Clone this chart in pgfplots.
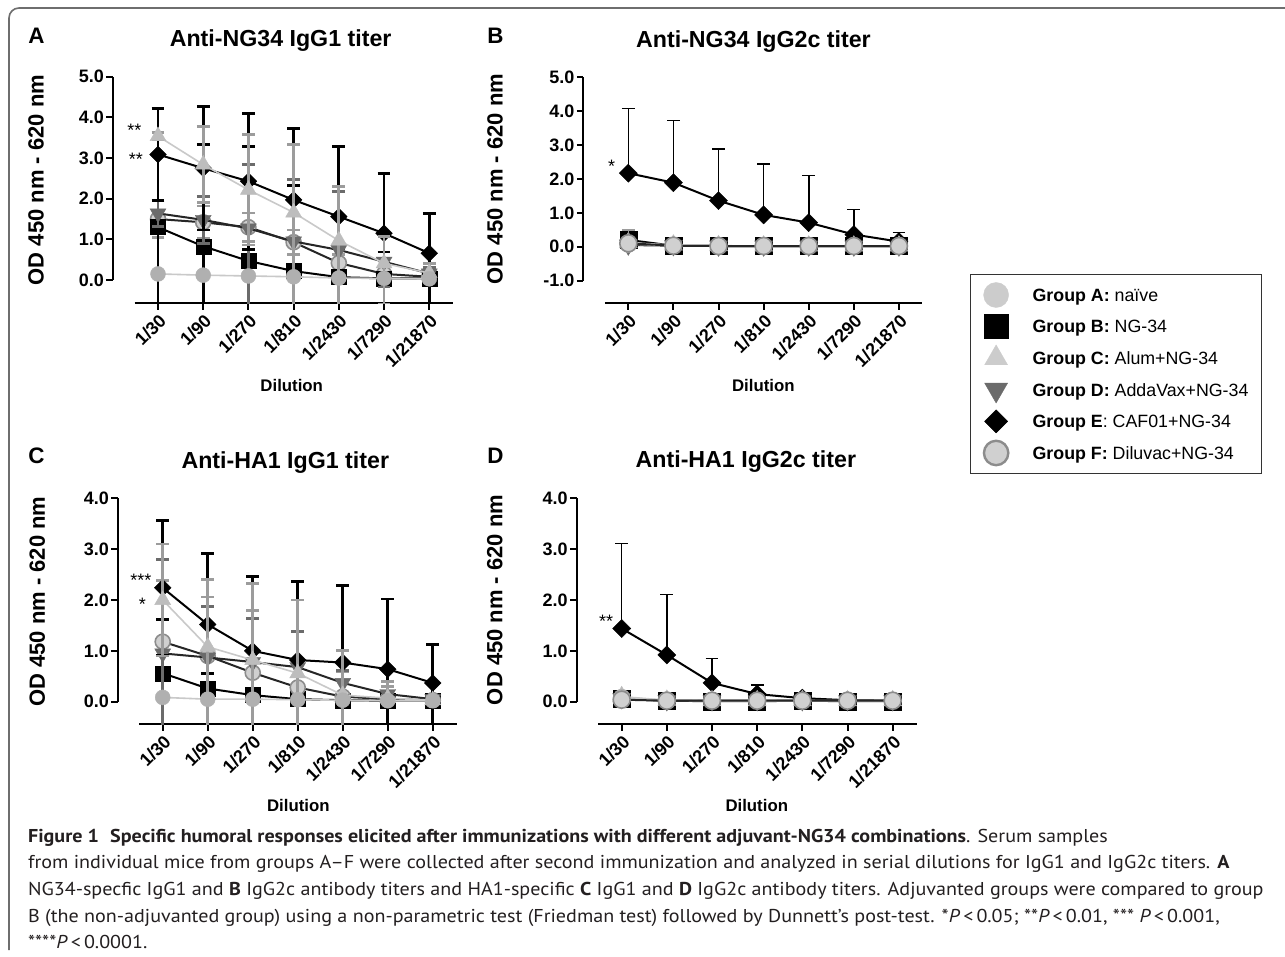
\documentclass[border=0pt]{standalone}
\usepackage{fontspec}
\setmainfont{Liberation Sans}
\newfontfamily\capfont[FakeStretch=1.08]{PT Sans}
\usepackage{pgfplots}
\pgfplotsset{compat=1.18}

\definecolor{grA}{HTML}{B0B0B0}
\definecolor{grAleg}{HTML}{CCCCCC}
\definecolor{grC}{HTML}{BDBDBD}
\definecolor{grCbar}{HTML}{9C9C9C}
\definecolor{grD}{HTML}{6B6B6B}
\definecolor{grFfill}{HTML}{D0D0D0}
\definecolor{grFdraw}{HTML}{8C8C8C}
\definecolor{lightline}{HTML}{C9C9C9}
\definecolor{framegray}{HTML}{6E6E6E}
\definecolor{captext}{HTML}{231F20}

% marker sizes, changed per panel
\def\msq{3.75pt}\def\mtri{4.6pt}\def\mdia{2.95pt}\def\ebw{1.4pt}

\pgfplotsset{
  every axis title shift=0pt,
  gp/.style={
    scale only axis,
    xmin=0, xmax=7.53,
    axis x line=bottom, axis y line=left,
    axis line style={draw=none,-},
    tick align=outside, major tick length=3.2pt,
    tick style={black, line width=1pt},
    xtick={1,...,7},
    xticklabels={1/30,1/90,1/270,1/810,1/2430,1/7290,1/21870},
    tick label style={font=\fontsize{9}{10}\selectfont\bfseries},
    xticklabel style={rotate=45, anchor=north east, inner sep=1pt},
    yticklabel style={inner sep=1pt},
    xlabel={Dilution}, ylabel={OD 450 nm - 620 nm},
    xlabel style={font=\fontsize{8.4}{10}\selectfont\bfseries, anchor=base},
    ylabel style={font=\fontsize{11}{13}\selectfont\bfseries, anchor=center},
    title style={font=\fontsize{11.6}{14}\selectfont\bfseries, anchor=base},
    clip mode=individual,
  },
  ebar/.style={error bars/error bar style={#1, line width=\ebw},
    error bars/error mark options={#1, rotate=90, mark size=3.2pt, line width=\ebw}},
  gA/.style={lightline, line width=0.8pt, mark=*, mark size=\msq,
    mark options={solid, fill=grA, draw=grA, line width=0.2pt}, ebar=grA},
  gB/.style={black, line width=1pt, mark=square*, mark size=\msq,
    mark options={solid, fill=black, draw=black, line width=0.2pt}, ebar=black},
  gC/.style={lightline, line width=0.8pt, mark=triangle*, mark size=\mtri,
    mark options={solid, fill=grC, draw=grC, line width=0.2pt}, ebar=grCbar},
  gD/.style={black!85, line width=1pt, mark=triangle*, mark size=\mtri,
    mark options={solid, rotate=180, fill=grD, draw=grD, line width=0.2pt}, ebar=grD},
  gE/.style={black, line width=1pt, mark=square*, mark size=\mdia,
    mark options={solid, rotate=45, fill=black, draw=black, line width=0.2pt}, ebar=black},
  gF/.style={black!85, line width=1pt, mark=*, mark size=\msq,
    mark options={solid, fill=grFfill, draw=grFdraw, line width=0.8pt}, ebar=grCbar},
  both/.style={error bars/y dir=both, error bars/y explicit},
  plus/.style={error bars/y dir=plus, error bars/y explicit},
}

\begin{document}
\begin{tikzpicture}
\useasboundingbox (0,0) rectangle (642.5pt,-478.5pt);
\fill[white] (0,0) rectangle (642.5pt,-478.5pt);
\draw[framegray, line width=0.8pt, rounded corners=5pt]
  (4.5pt,-475pt) -- (4.5pt,-4pt) -- (642.5pt,-4pt);

% ---------- A: Anti-NG34 IgG1 ----------
% lower bars that run past the x axis are cut there, as in the original
\begin{axis}[gp, at={(56.4pt,-151.6pt)}, anchor=south west,
  width=170.2pt, height=113.2pt, ymin=-0.57, ymax=5,
  ytick={0,...,5}, yticklabels={0.0,1.0,2.0,3.0,4.0,5.0},
  title={Anti-NG34 IgG1 titer},
  title style={at={(axis description cs:0.493,1.1327)}},
  ylabel style={at={(axis description cs:-0.2256,0.544)}},
  xlabel style={at={(axis description cs:0.5256,-0.392)}}]
\draw[line width=1pt] (axis cs:0,0) -- (axis cs:0,5);
\draw[line width=1pt] (axis cs:0.48,-0.57) -- (axis cs:7.53,-0.57);
\addplot[gF, both] coordinates {(1,1.50)+-(0,0.45) (2,1.42)+-(0,0.40) (3,1.30)+-(0,0.35) (4,0.93)+-(0,0.30) (5,0.42)+-(0,0.20) (6,0.15)+-(0,0.10) (7,0.08)+-(0,0.05)};
\addplot[gB, both] coordinates {(1,1.30)+=(0,1.78)-=(0,2.00) (2,0.83)+-(0,2.50) (3,0.47)+-(0,2.82) (4,0.22)+-(0,2.10) (5,0.07)+=(0,0.70)-=(0,0.80) (6,0.04)+=(0,0.65)-=(0,0.80) (7,0.04)+=(0,0.65)-=(0,0.80)};
\addplot[gD, both] coordinates {(1,1.64)+-(0,0.33) (2,1.48)+-(0,0.58) (3,1.27)+=(0,1.57)-=(0,1.90) (4,0.95)+=(0,1.53)-=(0,1.70) (5,0.74)+-(0,1.44) (6,0.45)+-(0,0.62) (7,0.16)+-(0,0.14)};
\addplot[gE, both] coordinates {(1,3.09)+-(0,1.13) (2,2.75)+-(0,1.52) (3,2.43)+-(0,1.67) (4,1.97)+-(0,1.75) (5,1.56)+=(0,1.72)-=(0,2.30) (6,1.15)+=(0,1.47)-=(0,1.80) (7,0.66)+=(0,0.97)-=(0,1.30)};
\addplot[gC, both] coordinates {(1,3.54)+-(0,0.08) (2,2.84)+-(0,0.93) (3,2.22)+-(0,1.36) (4,1.66)+=(0,1.67)-=(0,2.30) (5,0.97)+=(0,1.33)-=(0,1.60) (6,0.41)+=(0,0.66)-=(0,1.00) (7,0.17)+=(0,0.24)-=(0,0.15)};
\addplot[gA, both] coordinates {(1,0.15)+-(0,0.05) (2,0.12)+-(0,0.04) (3,0.10)+-(0,0.03) (4,0.08)+-(0,0.03) (5,0.05)+-(0,0.02) (6,0.04)+-(0,0.02) (7,0.03)+-(0,0.02)};
\end{axis}

% ---------- B: Anti-NG34 IgG2c ----------
\def\msq{4.25pt}\def\mtri{5.2pt}\def\mdia{3.2pt}\def\ebw{0.8pt}
\begin{axis}[gp, at={(291.6pt,-151.65pt)}, anchor=south west,
  width=169.6pt, height=113pt, xmax=7.52, ymin=-1.67, ymax=5,
  ytick={-1,...,5}, yticklabels={-1.0,0.0,1.0,2.0,3.0,4.0,5.0},
  title={Anti-NG34 IgG2c titer},
  title style={at={(axis description cs:0.502,1.133)}},
  ylabel style={at={(axis description cs:-0.26,0.55)}},
  xlabel style={at={(axis description cs:0.531,-0.391)}},
  legend image code/.code={\draw[#1] plot coordinates {(0pt,0pt)};},
  legend cell align=left,
  legend style={at={(axis description cs:1.141,0.1297)}, anchor=north west,
    draw=black!80, line width=0.6pt, inner xsep=6.4pt, inner ysep=2.3pt,
    row sep=0pt, column sep=12pt,
    font=\fontsize{8.9}{10}\selectfont,
    nodes={inner xsep=0pt, inner ysep=0pt, minimum height=15.8pt,
      text height=6.4pt, text depth=0pt}}]
\addlegendimage{mark=*, mark size=6.25pt, mark options={solid, fill=grAleg, draw=grAleg, line width=0.2pt}}
\addlegendentry{\textbf{Group A:} naïve}
\addlegendimage{mark=square*, mark size=6pt, mark options={solid, fill=black, draw=black, line width=0.2pt}}
\addlegendentry{\textbf{Group B:} NG-34}
\addlegendimage{mark=triangle*, mark size=6.6pt, mark options={solid, fill=grAleg, draw=grAleg, line width=0.2pt}}
\addlegendentry{\textbf{Group C:} Alum+NG-34}
\addlegendimage{mark=triangle*, mark size=6.6pt, mark options={solid, rotate=180, fill=grD, draw=grD, line width=0.2pt}}
\addlegendentry{\textbf{Group D:} AddaVax+NG-34}
\addlegendimage{mark=square*, mark size=4.07pt, mark options={solid, rotate=45, fill=black, draw=black, line width=0.2pt}}
\addlegendentry{\textbf{Group E}: CAF01+NG-34}
\addlegendimage{mark=*, mark size=6.1pt, mark options={solid, fill=grFfill, draw=grFdraw, line width=1.2pt}}
\addlegendentry{\textbf{Group F:} Diluvac+NG-34}
\draw[line width=1pt] (axis cs:0,-1) -- (axis cs:0,5);
\draw[line width=1pt] (axis cs:0.48,-1.67) -- (axis cs:7.52,-1.67);
\addplot[gB, plus] coordinates {(1,0.20)+-(0,0.12) (2,0.03)+-(0,0.03) (3,0.02)+-(0,0.02) (4,0.02)+-(0,0.02) (5,0.02)+-(0,0.02) (6,0.02)+-(0,0.02) (7,0.02)+-(0,0.02)};
\addplot[gD, plus] coordinates {(1,0.05)+-(0,0.05) (2,0.03)+-(0,0.02) (3,0.02)+-(0,0.02) (4,0.02)+-(0,0.01) (5,0.02)+-(0,0.01) (6,0.02)+-(0,0.01) (7,0.02)+-(0,0.01)};
\addplot[gE, plus] coordinates {(1,2.17)+-(0,1.91) (2,1.89)+-(0,1.83) (3,1.36)+-(0,1.52) (4,0.94)+-(0,1.50) (5,0.71)+-(0,1.39) (6,0.36)+-(0,0.74) (7,0.15)+-(0,0.27)};
\addplot[gC, plus] coordinates {(1,0.12)+-(0,0.10) (2,0.05)+-(0,0.05) (3,0.03)+-(0,0.02) (4,0.02)+-(0,0.02) (5,0.02)+-(0,0.02) (6,0.02)+-(0,0.02) (7,0.02)+-(0,0.02)};
\addplot[gA, plus] coordinates {(1,0.08)+-(0,0.03) (2,0.03)+-(0,0.02) (3,0.02)+-(0,0.01) (4,0.02)+-(0,0.01) (5,0.02)+-(0,0.01) (6,0.02)+-(0,0.01) (7,0.02)+-(0,0.01)};
\addplot[gF, plus] coordinates {(1,0.10)+-(0,0.40) (2,0.03)+-(0,0.02) (3,0.02)+-(0,0.02) (4,0.02)+-(0,0.02) (5,0.02)+-(0,0.02) (6,0.02)+-(0,0.02) (7,0.02)+-(0,0.02)};
\end{axis}

% ---------- C: Anti-HA1 IgG1 ----------
\def\msq{3.75pt}\def\mtri{4.6pt}\def\mdia{2.95pt}\def\ebw{1.4pt}
\begin{axis}[gp, at={(58.85pt,-362.05pt)}, anchor=south west,
  width=169.45pt, height=112.9pt, ymin=-0.44, ymax=4,
  ytick={0,...,4}, yticklabels={0.0,1.0,2.0,3.0,4.0},
  title={Anti-HA1 IgG1 titer},
  title style={at={(axis description cs:0.4946,1.133)}},
  ylabel style={at={(axis description cs:-0.237,0.542)}},
  xlabel style={at={(axis description cs:0.533,-0.388)}}]
\draw[line width=1pt] (axis cs:0,0) -- (axis cs:0,4);
\draw[line width=1pt] (axis cs:0.48,-0.44) -- (axis cs:7.53,-0.44);
\addplot[gB, both] coordinates {(1,0.56)+-(0,1.06) (2,0.26)+=(0,0.30)-=(0,0.20) (3,0.13)+-(0,0.10) (4,0.05)+-(0,0.04) (5,0.03)+-(0,0.02) (6,0.02)+-(0,0.01) (7,0.02)+-(0,0.01)};
\addplot[gF, both] coordinates {(1,1.18)+=(0,1.20)-=(0,1.70) (2,0.90)+=(0,1.16)-=(0,1.40) (3,0.57)+-(0,1.23) (4,0.28)+-(0,1.11) (5,0.10)+=(0,0.50)-=(0,0.60) (6,0.05)+=(0,0.25)-=(0,0.04) (7,0.03)+=(0,0.07)-=(0,0.02)};
\addplot[gD, both] coordinates {(1,0.95)+-(0,1.85) (2,0.87)+=(0,1.00)-=(0,1.40) (3,0.78)+=(0,0.86)-=(0,1.30) (4,0.68)+=(0,0.70)-=(0,1.20) (5,0.37)+-(0,0.25) (6,0.15)+=(0,0.25)-=(0,0.10) (7,0.05)+=(0,0.05)-=(0,0.03)};
\addplot[gE, both] coordinates {(1,2.24)+-(0,1.32) (2,1.52)+-(0,1.40) (3,1.00)+-(0,1.47) (4,0.82)+-(0,1.54) (5,0.77)+-(0,1.51) (6,0.64)+-(0,1.38) (7,0.37)+=(0,0.75)-=(0,0.90)};
\addplot[gC, both] coordinates {(1,2.00)+-(0,1.10) (2,1.08)+=(0,1.33)-=(0,1.60) (3,0.82)+-(0,1.50) (4,0.56)+-(0,1.44) (5,0.13)+-(0,0.87) (6,0.07)+=(0,0.33)-=(0,0.05) (7,0.03)+=(0,0.07)-=(0,0.02)};
\addplot[gA, both] coordinates {(1,0.085)+-(0,0.03) (2,0.05)+-(0,0.02) (3,0.05)+-(0,0.02) (4,0.04)+-(0,0.02) (5,0.03)+-(0,0.01) (6,0.02)+-(0,0.01) (7,0.02)+-(0,0.01)};
\end{axis}

% ---------- D: Anti-HA1 IgG2c ----------
\def\msq{4.25pt}\def\mtri{5.2pt}\def\mdia{3.2pt}\def\ebw{0.8pt}
\begin{axis}[gp, at={(288.25pt,-362.05pt)}, anchor=south west,
  width=170.05pt, height=112.9pt, ymin=-0.44, ymax=4,
  ytick={0,...,4}, yticklabels={0.0,1.0,2.0,3.0,4.0},
  title={Anti-HA1 IgG2c titer},
  title style={at={(axis description cs:0.498,1.137)}},
  ylabel style={at={(axis description cs:-0.24,0.55)}},
  xlabel style={at={(axis description cs:0.53,-0.388)}}]
\draw[line width=1pt] (axis cs:0,0) -- (axis cs:0,4);
\draw[line width=1pt] (axis cs:0.48,-0.44) -- (axis cs:7.53,-0.44);
\addplot[gB, plus] coordinates {(1,0.05)+-(0,0.03) (2,0.02)+-(0,0.02) (3,0.01)+-(0,0.01) (4,0.01)+-(0,0.01) (5,0.02)+-(0,0.01) (6,0.01)+-(0,0.01) (7,0.01)+-(0,0.01)};
\addplot[gD, plus] coordinates {(1,0.06)+-(0,0.04) (2,0.02)+-(0,0.02) (3,0.02)+-(0,0.01) (4,0.02)+-(0,0.01) (5,0.02)+-(0,0.01) (6,0.02)+-(0,0.01) (7,0.02)+-(0,0.01)};
\addplot[gE, plus] coordinates {(1,1.44)+-(0,1.67) (2,0.92)+-(0,1.19) (3,0.37)+-(0,0.48) (4,0.15)+-(0,0.18) (5,0.07)+-(0,0.04) (6,0.03)+-(0,0.01) (7,0.02)+-(0,0.01)};
\addplot[gC, plus] coordinates {(1,0.10)+-(0,0.05) (2,0.03)+-(0,0.02) (3,0.02)+-(0,0.01) (4,0.02)+-(0,0.01) (5,0.02)+-(0,0.01) (6,0.02)+-(0,0.01) (7,0.02)+-(0,0.01)};
\addplot[gA, plus] coordinates {(1,0.08)+-(0,0.04) (2,0.03)+-(0,0.02) (3,0.02)+-(0,0.01) (4,0.02)+-(0,0.01) (5,0.02)+-(0,0.01) (6,0.02)+-(0,0.01) (7,0.02)+-(0,0.01)};
\addplot[gF, plus] coordinates {(1,0.04)+-(0,0.03) (2,0.02)+-(0,0.02) (3,0.02)+-(0,0.01) (4,0.02)+-(0,0.01) (5,0.02)+-(0,0.01) (6,0.02)+-(0,0.01) (7,0.02)+-(0,0.01)};
\end{axis}

% panel letters
\begin{scope}[every node/.style={anchor=base west, inner sep=0pt, font=\fontsize{11.2}{13}\selectfont\bfseries}]
\node at (14pt,-22pt) {A};
\node at (243.5pt,-22pt) {B};
\node at (14pt,-231.5pt) {C};
\node at (243.5pt,-231.5pt) {D};
\end{scope}

% significance marks
\begin{scope}[every node/.style={anchor=base, inner sep=0pt, font=\fontsize{9}{10}\selectfont}]
\node at (67.25pt,-68.2pt) {**};
\node at (68pt,-82.95pt) {**};
\node at (305.75pt,-86.05pt) {*};
\node at (70.5pt,-293.45pt) {***};
\node at (71.25pt,-305.45pt) {*};
\node at (303pt,-313.95pt) {**};
\end{scope}

% caption
\begin{scope}[every node/.style={anchor=base west, inner sep=0pt, text=captext, font=\capfont\fontsize{9.3}{11}\selectfont}]
\node at (13.85pt,-421pt) {\textbf{Figure 1\hspace{0.6em}Specific humoral responses elicited after immunizations with different adjuvant-NG34 combinations}. Serum samples};
\node at (13.85pt,-434.35pt) {from individual mice from groups A–F were collected after second immunization and analyzed in serial dilutions for IgG1 and IgG2c titers. \textbf{A}};
\node at (13.85pt,-447.65pt) {NG34-specfic IgG1 and \textbf{B} IgG2c antibody titers and HA1-specific \textbf{C} IgG1 and \textbf{D} IgG2c antibody titers. Adjuvanted groups were compared to group};
\node at (13.85pt,-461pt) {B (the non-adjuvanted group) using a non-parametric test (Friedman test) followed by Dunnett’s post-test. *\textit{P}\,<\,0.05; **\textit{P}\,<\,0.01, *** \textit{P}\,<\,0.001,};
\node at (13.85pt,-474.35pt) {****\textit{P}\,<\,0.0001.};
\end{scope}
\end{tikzpicture}
\end{document}
